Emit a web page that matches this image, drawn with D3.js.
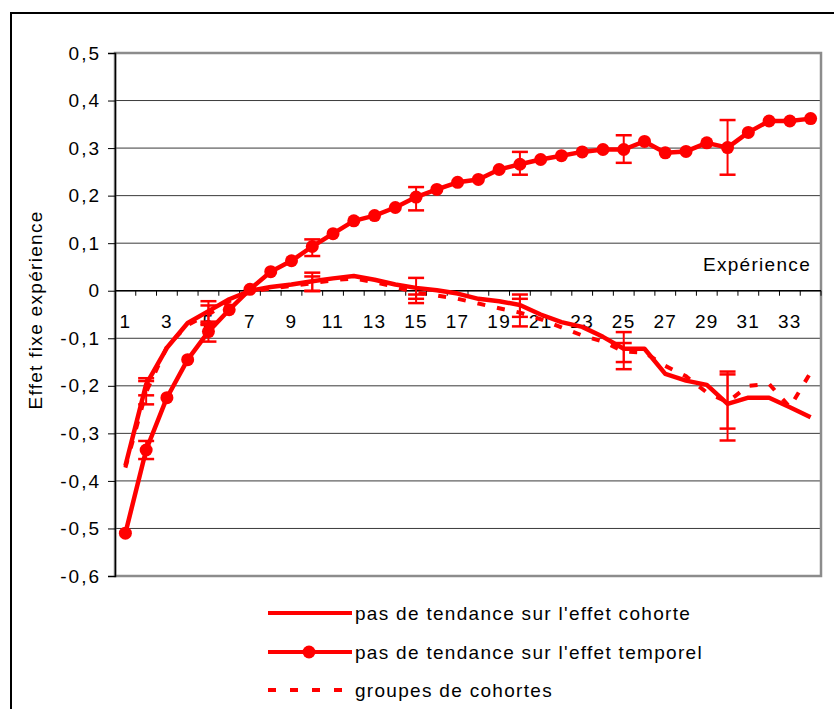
<!DOCTYPE html>
<html>
<head>
<meta charset="utf-8">
<script src="https://cdn.jsdelivr.net/npm/d3@7"></script>
<style>
  body { margin: 0; background: #fff; }
  svg { display: block; font-family: "Liberation Sans", Arial, sans-serif; }
</style>
</head>
<body>
<svg width="834" height="709"></svg>
<script>
const width = 834, height = 709;

// categories (years of experience)
const categories = [1, 2, 3, 4, 5, 6, 7, 8, 9, 10, 11, 12, 13, 14, 15, 16, 17,
                    18, 19, 20, 21, 22, 23, 24, 25, 26, 27, 28, 29, 30, 31, 32, 33, 34];
const xTickLabels = [1, 3, 5, 7, 9, 11, 13, 15, 17, 19, 21, 23, 25, 27, 29, 31, 33];
const yTicks = [0.5, 0.4, 0.3, 0.2, 0.1, 0, -0.1, -0.2, -0.3, -0.4, -0.5, -0.6];

// series
const cohorte = [-0.368, -0.197, -0.12, -0.068, -0.043, -0.018, 0.0, 0.008, 0.013, 0.02,
                 0.026, 0.031, 0.023, 0.013, 0.006, 0.001, -0.006, -0.017, -0.022, -0.03,
                 -0.05, -0.066, -0.076, -0.097, -0.122, -0.122, -0.175, -0.189, -0.198, -0.238,
                 -0.225, -0.225, -0.245, -0.266];
const temporel = [-0.51, -0.335, -0.225, -0.145, -0.086, -0.04, 0.003, 0.04, 0.063, 0.093,
                  0.12, 0.147, 0.158, 0.175, 0.197, 0.213, 0.228, 0.234, 0.255, 0.266,
                  0.276, 0.284, 0.292, 0.297, 0.297, 0.314, 0.29, 0.293, 0.311, 0.301,
                  0.333, 0.357, 0.357, 0.362];
const groupes = [-0.372, -0.213, -0.118, -0.072, -0.05, -0.022, -0.002, 0.005, 0.01, 0.016,
                 0.022, 0.026, 0.018, 0.008, -0.004, -0.01, -0.017, -0.027, -0.037, -0.046,
                 -0.06, -0.077, -0.094, -0.107, -0.128, -0.13, -0.158, -0.18, -0.214, -0.234,
                 -0.2, -0.196, -0.245, -0.172];

// error bars
const errCats = [2, 5, 10, 15, 20, 25, 30];
const cohorteLo = [-0.22, -0.072, -0.001, -0.017, -0.055, -0.165, -0.315];
const cohorteHi = [-0.184, -0.022, 0.038, 0.027, -0.008, -0.087, -0.176];
const groupesLo = [-0.239, -0.069, 0.0, -0.026, -0.075, -0.15, -0.29];
const groupesHi = [-0.19, -0.031, 0.03, -0.008, -0.017, -0.11, -0.17];
const temporelLo = [-0.354, -0.107, 0.073, 0.169, 0.244, 0.269, 0.244];
const temporelHi = [-0.316, -0.065, 0.108, 0.218, 0.292, 0.327, 0.359];

const legendLabels = ["pas de tendance sur l'effet cohorte",
                      "pas de tendance sur l'effet temporel",
                      "groupes de cohortes"];

const red = "#ff0000";
const margin = {top: 53, left: 115, right: 13, bottom: 133};
const plotW = width - margin.left - margin.right;
const plotH = height - margin.top - margin.bottom;

const svg = d3.select("svg");

// outer frame
svg.append("rect")
    .attr("x", 11).attr("y", 13)
    .attr("width", 860).attr("height", 740)
    .attr("fill", "none")
    .attr("stroke", "#000")
    .attr("stroke-width", 2);

const g = svg.append("g")
    .attr("transform", `translate(${margin.left},${margin.top})`);

const x = d3.scaleBand().domain(categories).range([0, plotW]).padding(0);
const y = d3.scaleLinear().domain([-0.6, 0.5]).range([plotH, 0]);
const cx = c => x(c) + x.bandwidth() / 2;

// gridlines
g.selectAll("line.grid")
    .data(yTicks)
    .join("line")
    .attr("class", "grid")
    .attr("x1", 0).attr("x2", plotW)
    .attr("y1", d => y(d)).attr("y2", d => y(d))
    .attr("stroke", "#3a3a3a")
    .attr("stroke-width", 1);

// plot area border
g.append("rect")
    .attr("x", 0).attr("y", 0)
    .attr("width", plotW).attr("height", plotH)
    .attr("fill", "none")
    .attr("stroke", "#8c8c8c")
    .attr("stroke-width", 2.5);

// y axis
const yAxis = g.append("g")
    .call(d3.axisLeft(y).tickValues(yTicks).tickSize(7).tickPadding(7)
        .tickFormat(d => String(d).replace(".", ",")));
yAxis.select(".domain").attr("stroke", "#000").attr("stroke-width", 1.5);
yAxis.selectAll(".tick line").attr("stroke", "#000");
yAxis.selectAll(".tick text")
    .attr("font-size", "19px")
    .attr("letter-spacing", "2px")
    .attr("fill", "#000");

// x axis at zero: tick marks between categories
const xAxis = g.append("g").attr("transform", `translate(0,${y(0)})`);
xAxis.append("line")
    .attr("x1", 0).attr("x2", plotW)
    .attr("stroke", "#000").attr("stroke-width", 1.5);
xAxis.selectAll("line.tk")
    .data(categories)
    .join("line")
    .attr("class", "tk")
    .attr("x1", d => x(d) + x.bandwidth()).attr("x2", d => x(d) + x.bandwidth())
    .attr("y1", 0).attr("y2", 5)
    .attr("stroke", "#000");
xAxis.selectAll("text")
    .data(xTickLabels)
    .join("text")
    .attr("x", d => cx(d))
    .attr("y", 37)
    .attr("text-anchor", "middle")
    .attr("font-size", "19px")
    .attr("letter-spacing", "1.3px")
    .text(d => d);

g.append("text")
    .attr("x", plotW - 10)
    .attr("y", y(0) - 20)
    .attr("text-anchor", "end")
    .attr("font-size", "19px")
    .attr("letter-spacing", "1.3px")
    .text("Expérience");

// y title
svg.append("text")
    .attr("transform", "translate(42,310) rotate(-90)")
    .attr("text-anchor", "middle")
    .attr("font-size", "19px")
    .attr("letter-spacing", "1.3px")
    .text("Effet fixe expérience");

// series
const line = d3.line().x((d, i) => cx(categories[i])).y(d => y(d));

g.append("path")
    .datum(cohorte)
    .attr("d", line)
    .attr("fill", "none")
    .attr("stroke", red)
    .attr("stroke-width", 4.5)
    .attr("stroke-linejoin", "round");

g.append("path")
    .datum(temporel)
    .attr("d", line)
    .attr("fill", "none")
    .attr("stroke", red)
    .attr("stroke-width", 4.5)
    .attr("stroke-linejoin", "round");

g.selectAll("circle.dot")
    .data(temporel)
    .join("circle")
    .attr("class", "dot")
    .attr("cx", (d, i) => cx(categories[i]))
    .attr("cy", d => y(d))
    .attr("r", 6.5)
    .attr("fill", red);

g.append("path")
    .datum(groupes)
    .attr("d", line)
    .attr("fill", "none")
    .attr("stroke", red)
    .attr("stroke-width", 4)
    .attr("stroke-dasharray", "8,12");

// error bars
function errorBars(lo, hi) {
    const bars = g.append("g");
    errCats.forEach((c, i) => {
        const xc = cx(c);
        bars.append("line")
            .attr("x1", xc).attr("x2", xc)
            .attr("y1", y(lo[i])).attr("y2", y(hi[i]))
            .attr("stroke", red).attr("stroke-width", 2);
        [lo[i], hi[i]].forEach(v => {
            bars.append("line")
                .attr("x1", xc - 8).attr("x2", xc + 8)
                .attr("y1", y(v)).attr("y2", y(v))
                .attr("stroke", red).attr("stroke-width", 2.5);
        });
    });
}
errorBars(cohorteLo, cohorteHi);
errorBars(temporelLo, temporelHi);
errorBars(groupesLo, groupesHi);

// legend
const legend = svg.append("g").attr("transform", "translate(268,613)");
const rows = legend.selectAll("g")
    .data(legendLabels)
    .join("g")
    .attr("transform", (d, i) => `translate(0,${[0, 39, 77][i]})`);

rows.append("line")
    .attr("x1", 0).attr("x2", 84)
    .attr("stroke", red)
    .attr("stroke-width", 4)
    .attr("stroke-dasharray", (d, i) => i === 2 ? "8,14" : null);

rows.filter((d, i) => i === 1)
    .append("circle")
    .attr("cx", 41)
    .attr("r", 6.5)
    .attr("fill", red);

rows.append("text")
    .attr("x", 87)
    .attr("y", 7)
    .attr("font-size", "19px")
    .attr("letter-spacing", "1.3px")
    .text(d => d);
</script>
</body>
</html>
